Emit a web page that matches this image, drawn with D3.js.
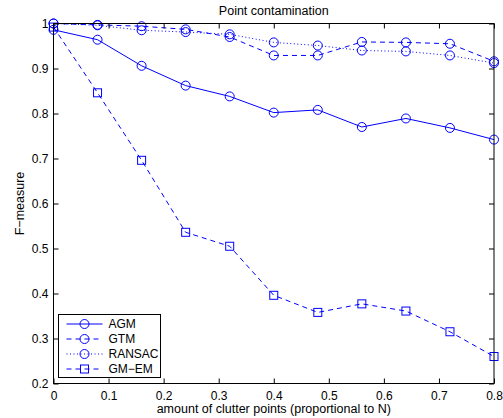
<!DOCTYPE html>
<html>
<head>
<meta charset="utf-8">
<script src="https://cdn.jsdelivr.net/npm/d3@7"></script>
<style>
  body { margin: 0; background: #fff; }
  text { font-family: "Liberation Sans", Arial, sans-serif; }
</style>
</head>
<body>
<div id="chart"></div>
<script>
var xValues = [0, 0.08, 0.16, 0.24, 0.32, 0.4, 0.48, 0.56, 0.64, 0.72, 0.8];
var agm   = [0.986, 0.964, 0.906, 0.862, 0.838, 0.802, 0.808, 0.770, 0.789, 0.768, 0.742];
var gtm   = [1.0, 0.997, 0.994, 0.987, 0.970, 0.929, 0.929, 0.959, 0.958, 0.955, 0.916];
var ransac = [1.0, 0.996, 0.985, 0.981, 0.976, 0.958, 0.951, 0.940, 0.938, 0.929, 0.912];
var gmem  = [0.992, 0.846, 0.696, 0.536, 0.505, 0.396, 0.358, 0.377, 0.361, 0.315, 0.260];
var xTicks = [0, 0.1, 0.2, 0.3, 0.4, 0.5, 0.6, 0.7, 0.8];
var yTicks = [0.2, 0.3, 0.4, 0.5, 0.6, 0.7, 0.8, 0.9, 1];
var seriesNames = ["AGM", "GTM", "RANSAC", "GM\u2212EM"];

function drawChart() {
    var width = 503;
    var height = 418;
    var margin = {left: 53.5, right: 9, top: 23.5, bottom: 34.5};
    var blue = "#0000ff";

    var svg = d3.select('#chart')
      .append('svg')
        .attr('width', width)
        .attr('height', height);

    var x = d3.scaleLinear()
        .domain([0, 0.8])
        .range([margin.left, width - margin.right]);

    var y = d3.scaleLinear()
        .domain([0.2, 1])
        .range([height - margin.bottom, margin.top]);

    var series = [
        {name: seriesNames[0], values: agm, dash: null, marker: 'circle'},
        {name: seriesNames[1], values: gtm, dash: '5,4', marker: 'circle'},
        {name: seriesNames[2], values: ransac, dash: '1,2.5', marker: 'circle'},
        {name: seriesNames[3], values: gmem, dash: '5,4', marker: 'square'}
    ];

    var line = d3.line()
        .x((d, i) => x(xValues[i]))
        .y(d => y(d));

    var g = svg.append('g');

    series.forEach(s => {
        g.append('path')
            .attr('d', line(s.values))
            .attr('fill', 'none')
            .attr('stroke', blue)
            .attr('stroke-width', 1)
            .attr('stroke-dasharray', s.dash);

        drawMarkers(g, s.marker, s.values.map((v, i) => [x(xValues[i]), y(v)]));
    });

    function drawMarkers(parent, type, pts) {
        if (type == 'circle') {
            parent.selectAll(null)
              .data(pts)
              .enter()
              .append('circle')
                .attr('cx', d => d[0])
                .attr('cy', d => d[1])
                .attr('r', 4.5)
                .attr('fill', 'none')
                .attr('stroke', blue)
                .attr('stroke-width', 1);
        } else {
            parent.selectAll(null)
              .data(pts)
              .enter()
              .append('rect')
                .attr('x', d => d[0] - 4)
                .attr('y', d => d[1] - 4)
                .attr('width', 8)
                .attr('height', 8)
                .attr('fill', 'none')
                .attr('stroke', blue)
                .attr('stroke-width', 1);
        }
    }

    // axes box with inward ticks on all sides
    var x0 = x.range()[0], x1 = x.range()[1];
    var y0 = y.range()[0], y1 = y.range()[1];

    svg.append('g')
        .attr('transform', `translate(0,${y0})`)
        .call(d3.axisBottom(x).tickValues(xTicks).tickSizeInner(-5).tickSizeOuter(0).tickPadding(8)
            .tickFormat(d => d == 0 ? '0' : d3.format('.1f')(d)))
        .call(a => a.select('.domain').remove());
    svg.append('g')
        .attr('transform', `translate(0,${y1})`)
        .call(d3.axisTop(x).tickValues(xTicks).tickSizeInner(-5).tickSizeOuter(0).tickFormat(''))
        .call(a => a.select('.domain').remove());
    svg.append('g')
        .attr('transform', `translate(${x0},0)`)
        .call(d3.axisLeft(y).tickValues(yTicks).tickSizeInner(-5).tickSizeOuter(0).tickPadding(5)
            .tickFormat(d => d == 1 ? '1' : d3.format('.1f')(d)))
        .call(a => a.select('.domain').remove());
    svg.append('g')
        .attr('transform', `translate(${x1},0)`)
        .call(d3.axisRight(y).tickValues(yTicks).tickSizeInner(-5).tickSizeOuter(0).tickFormat(''))
        .call(a => a.select('.domain').remove());

    svg.selectAll('.tick line').attr('stroke', '#000');
    svg.selectAll('.tick text')
        .attr('fill', '#000')
        .style('font-size', '12px');

    svg.append('rect')
        .attr('x', x0)
        .attr('y', y1)
        .attr('width', x1 - x0)
        .attr('height', y0 - y1)
        .attr('fill', 'none')
        .attr('stroke', '#000')
        .attr('stroke-width', 1);

    // title and labels
    svg.append('text')
        .attr('x', (x0 + x1) / 2)
        .attr('y', 15)
        .attr('text-anchor', 'middle')
        .style('font-size', '12.5px')
        .text('Point contamination');

    svg.append('text')
        .attr('x', (x0 + x1) / 2)
        .attr('y', 413)
        .attr('text-anchor', 'middle')
        .style('font-size', '12.5px')
        .text('amount of clutter points (proportional to N)');

    svg.append('text')
        .attr('transform', `translate(24,${(y0 + y1) / 2}) rotate(-90)`)
        .attr('text-anchor', 'middle')
        .style('font-size', '12.5px')
        .text('F\u2212measure');

    // legend
    var legend = svg.append('g')
        .attr('transform', 'translate(58.5,314.5)');

    legend.append('rect')
        .attr('width', 102)
        .attr('height', 63)
        .attr('fill', '#fff')
        .attr('stroke', '#000')
        .attr('stroke-width', 1);

    var item = legend.selectAll('.item')
      .data(series)
      .enter()
      .append('g')
        .attr('class', 'item')
        .attr('transform', (d, i) => `translate(0,${9.5 + i * 15})`);

    item.append('line')
        .attr('x1', 8)
        .attr('x2', 44)
        .attr('stroke', blue)
        .attr('stroke-width', 1)
        .attr('stroke-dasharray', d => d.dash);

    item.each(function(d) {
        drawMarkers(d3.select(this), d.marker, [[26, 0]]);
    });

    item.append('text')
        .attr('x', 50)
        .attr('dy', '0.36em')
        .style('font-size', '12px')
        .text(d => d.name);
}

drawChart();
</script>
</body>
</html>
